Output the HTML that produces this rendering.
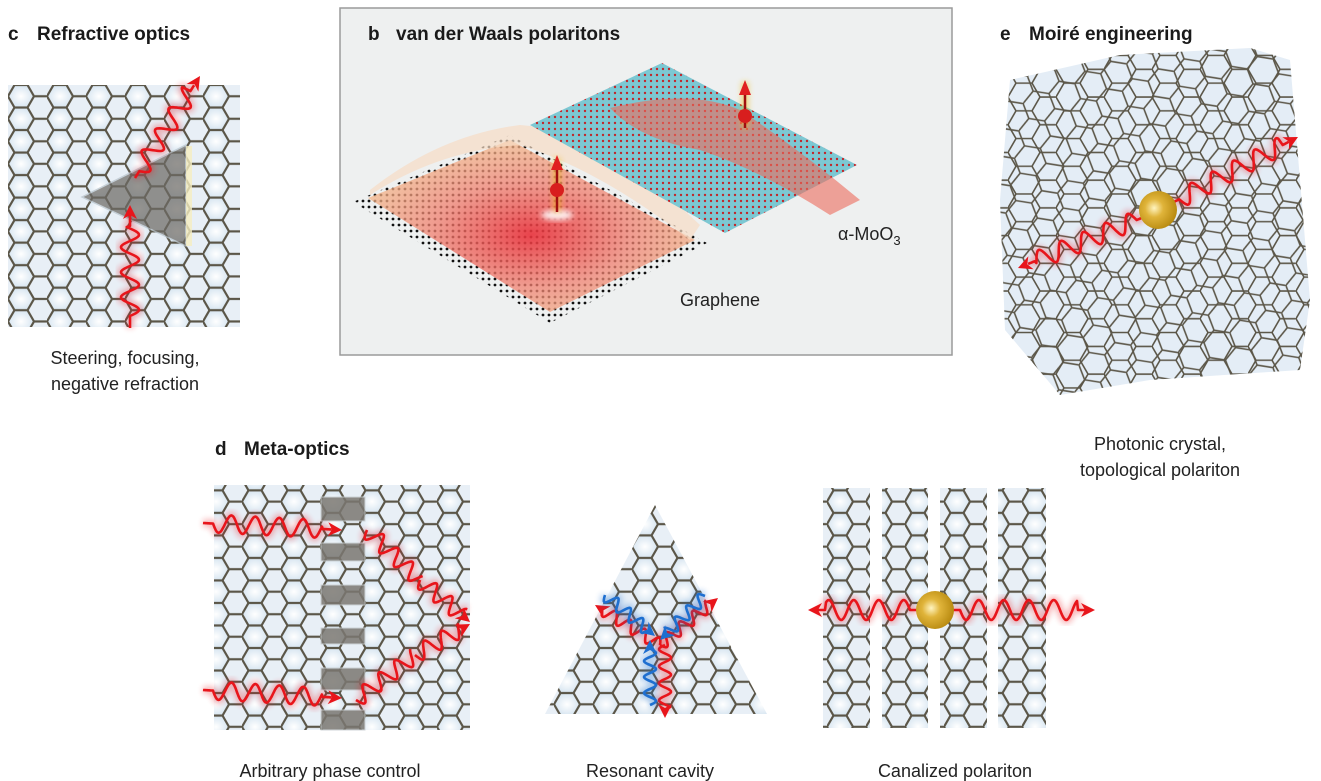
<!DOCTYPE html>
<html><head><meta charset="utf-8"><style>
html,body{margin:0;padding:0;background:#fff;}
svg{display:block;font-family:"Liberation Sans",Arial,sans-serif;}
.t{font-weight:bold;font-size:19px;fill:#1a1a1a;}
.cap{font-size:18px;fill:#222;}
</style></head><body>
<svg id="s" width="1321" height="781" viewBox="0 0 1321 781" xmlns="http://www.w3.org/2000/svg">
<defs>
 <radialGradient id="hb" cx="50%" cy="50%" r="60%"><stop offset="0" stop-color="#ffffff"/><stop offset="1" stop-color="#cfe0ee"/></radialGradient>
 <pattern id="hex" x="8" y="85" width="39" height="22.52" patternUnits="userSpaceOnUse">
  <rect width="39" height="22.52" fill="#e8eff6"/>
  <path d="M0 11.26 L6.5 0 L19.5 0 L26 11.26 L19.5 22.52 L6.5 22.52 Z" fill="url(#hb)"/>
  <path d="M0 11.26 L6.5 0 L19.5 0 L26 11.26 L19.5 22.52 L6.5 22.52 Z M26 11.26 L39 11.26" fill="none" stroke="#5b5648" stroke-width="2.2"/>
 </pattern>
 <pattern id="hexm" width="48" height="27.71" patternUnits="userSpaceOnUse">
  <path d="M0 13.86 L8 0 L24 0 L32 13.86 L24 27.71 L8 27.71 Z M32 13.86 L48 13.86" fill="none" stroke="#5b5648" stroke-width="1.6"/>
 </pattern>
 <pattern id="hexm2" width="48" height="27.71" patternUnits="userSpaceOnUse" patternTransform="rotate(9 1150 210)">
  <path d="M0 13.86 L8 0 L24 0 L32 13.86 L24 27.71 L8 27.71 Z M32 13.86 L48 13.86" fill="none" stroke="#5b5648" stroke-width="1.6"/>
 </pattern>
 <pattern id="dots" width="6" height="6" patternUnits="userSpaceOnUse"><circle cx="3" cy="3" r="1.4" fill="#111"/></pattern>
 <pattern id="rdots" width="6" height="6" patternUnits="userSpaceOnUse"><rect width="6" height="6" fill="#7cc8d3"/><circle cx="3" cy="3" r="1.2" fill="#c0282c"/></pattern>
 <radialGradient id="glow" cx="50%" cy="55%" r="55%"><stop offset="0" stop-color="#e8303a" stop-opacity=".9"/><stop offset=".55" stop-color="#f08070" stop-opacity=".75"/><stop offset="1" stop-color="#f3b88a" stop-opacity=".75"/></radialGradient>
 <radialGradient id="gold" cx="40%" cy="45%" r="60%"><stop offset="0" stop-color="#fff4c0"/><stop offset=".4" stop-color="#e0b43a"/><stop offset="1" stop-color="#b88a10"/></radialGradient>
 <filter id="bl" x="-30%" y="-30%" width="160%" height="160%"><feGaussianBlur stdDeviation="3"/></filter>
 <clipPath id="cc"><rect x="8" y="85" width="232" height="242"/></clipPath>
 <clipPath id="cd1"><rect x="214" y="485" width="256" height="245"/></clipPath>
 <clipPath id="ctri"><polygon points="655,505 545,714 767,714"/></clipPath>
 <clipPath id="cstr"><rect x="823" y="488" width="47" height="240"/><rect x="882" y="488" width="46" height="240"/><rect x="940" y="488" width="47" height="240"/><rect x="998" y="488" width="48" height="240"/></clipPath>
 <clipPath id="ce"><polygon points="1010,80 1120,55 1250,48 1290,60 1300,180 1310,300 1300,370 1150,380 1060,395 1005,330 1000,200"/></clipPath>
</defs>

<text x="8" y="40" class="t">c</text><text x="37" y="40" class="t">Refractive optics</text>
<rect x="8" y="85" width="232" height="242" fill="url(#hex)" clip-path="url(#cc)"/>
<polygon points="82,197 186,145 186,246" fill="#6e6b66" opacity=".72" stroke="#b8c4cc" stroke-width="1.5"/>
<rect x="186" y="146" width="6" height="100" fill="#f5eec0" opacity=".8"/>
<text x="125" y="364" text-anchor="middle" class="cap">Steering, focusing,</text>
<text x="125" y="390" text-anchor="middle" class="cap">negative refraction</text>

<rect x="340" y="8" width="612" height="347" fill="#eef0f0" stroke="#9a9a9a" stroke-width="1.5"/>
<text x="368" y="40" class="t">b</text><text x="396" y="40" class="t">van der Waals polaritons</text>
<polygon points="353,202 550,323 707,243 510,135" fill="url(#dots)"/>
<polygon points="368,198 550,312 695,240 510,140" fill="url(#glow)"/>
<path d="M370 190 Q440 135 520 125 Q600 130 700 225 L690 240 Q600 170 520 145 Q440 150 370 195Z" fill="#f6dcc4" opacity=".7"/>
<polygon points="530,125 725,233 857,165 662,63" fill="url(#rdots)"/>
<path d="M610 108 Q690 88 740 110 Q800 150 860 200 L830 215 Q760 170 700 150 Q640 140 610 108Z" fill="#ec6a5c" opacity=".6"/>
<ellipse cx="557" cy="215" rx="16" ry="5" fill="#fff" opacity=".9" filter="url(#bl)"/>
<g stroke="#f0c020" stroke-width="7" opacity=".6" filter="url(#bl)"><line x1="557" y1="212" x2="557" y2="158"/><line x1="745" y1="128" x2="745" y2="82"/></g>
<g stroke="#a01010" stroke-width="2.5"><line x1="557" y1="212" x2="557" y2="165"/><line x1="745" y1="128" x2="745" y2="90"/></g>
<polygon points="551,170 557,155 563,170" fill="#e02020"/><polygon points="739,95 745,80 751,95" fill="#e02020"/>
<circle cx="557" cy="190" r="7" fill="#d81e1e"/><circle cx="745" cy="116" r="7" fill="#d81e1e"/>
<text x="680" y="306" class="cap">Graphene</text>
<text x="838" y="240" class="cap">α-MoO<tspan font-size="13" dy="5">3</tspan></text>

<text x="1000" y="40" class="t">e</text><text x="1029" y="40" class="t">Moiré engineering</text>
<g clip-path="url(#ce)">
 <rect x="990" y="40" width="330" height="370" fill="#e4edf6"/>
 <rect x="990" y="40" width="330" height="370" fill="url(#hexm)"/>
 <rect x="990" y="40" width="330" height="370" fill="url(#hexm2)"/>
</g>
<text x="1160" y="450" text-anchor="middle" class="cap">Photonic crystal,</text>
<text x="1160" y="476" text-anchor="middle" class="cap">topological polariton</text>

<text x="215" y="455" class="t">d</text><text x="244" y="455" class="t">Meta-optics</text>
<rect x="214" y="485" width="256" height="245" fill="url(#hex)" clip-path="url(#cd1)"/>
<g fill="#7b7872" opacity=".85" stroke="#c9cfd2">
 <rect x="321" y="497" width="44" height="24"/><rect x="321" y="543" width="44" height="18"/><rect x="321" y="585" width="44" height="20"/><rect x="321" y="628" width="44" height="16"/><rect x="321" y="668" width="44" height="22"/><rect x="321" y="710" width="44" height="20"/>
</g>
<rect x="540" y="495" width="230" height="225" fill="url(#hex)" clip-path="url(#ctri)"/>
<rect x="815" y="488" width="240" height="240" fill="url(#hex)" clip-path="url(#cstr)"/>
<text x="330" y="777" text-anchor="middle" class="cap">Arbitrary phase control</text>
<text x="650" y="777" text-anchor="middle" class="cap">Resonant cavity</text>
<text x="955" y="777" text-anchor="middle" class="cap">Canalized polariton</text>
<g id="w"></g>
<circle cx="1158" cy="210" r="19" fill="url(#gold)"/>
<circle cx="935" cy="610" r="19" fill="url(#gold)"/>
</svg>
<script>
var NS="http://www.w3.org/2000/svg",g=document.getElementById("w");
function wave(x1,y1,x2,y2,amp,wl,col,arrow,lead){
 col=col||"#e8151b";lead=lead||0;
 var dx=x2-x1,dy=y2-y1,L=Math.hypot(dx,dy),ux=dx/L,uy=dy/L,nx=-uy,ny=ux,d="";
 var end=L-(arrow?10:0);
 for(var t=0;t<=end;t+=1){var a=(t<lead||t>end-lead)?0:amp*Math.sin(2*Math.PI*(t-lead)/wl);
  d+=(t?"L":"M")+(x1+ux*t+nx*a).toFixed(1)+" "+(y1+uy*t+ny*a).toFixed(1);}
 var p=document.createElementNS(NS,"path");p.setAttribute("d",d);p.setAttribute("fill","none");
 p.setAttribute("stroke",col);p.setAttribute("stroke-width","2.6");p.setAttribute("stroke-linejoin","round");
 var gl=p.cloneNode();gl.setAttribute("stroke-width","8");gl.setAttribute("opacity",".3");gl.setAttribute("filter","url(#bl)");
 g.appendChild(gl);g.appendChild(p);
 if(arrow){var ax=x2,ay=y2,bx=x2-ux*14,by=y2-uy*14;
  var q=document.createElementNS(NS,"polygon");
  q.setAttribute("points",ax+","+ay+" "+(bx+nx*7)+","+(by+ny*7)+" "+(x2-ux*10)+","+(y2-uy*10)+" "+(bx-nx*7)+","+(by-ny*7));
  q.setAttribute("fill",col);g.appendChild(q);}
}
wave(130,328,130,205,9,25,0,1,12);
wave(135,178,200,76,9,25,0,1,8);
wave(1172,203,1298,137,9,24,0,1,8);
wave(1144,217,1018,268,9,24,0,1,8);
wave(203,523,342,530,9,24,0,1,10);
wave(203,690,342,698,9,24,0,1,10);
wave(367,530,420,580,8,20,0,0,0);wave(420,580,470,622,8,20,0,1,0);
wave(356,700,415,655,8,20,0,0,0);wave(415,655,470,624,8,20,0,1,0);
wave(660,645,595,605,6,17,0,1,0);
wave(660,645,718,598,6,17,0,1,0);
wave(665,645,665,718,6,17,0,1,0);
wave(650,705,650,640,6,16,"#1e6fd0",1,0);
wave(705,596,660,640,6,16,"#1e6fd0",1,0);
wave(605,595,655,636,6,16,"#1e6fd0",1,0);
wave(918,610,808,610,10,25,0,1,8);
wave(952,610,1095,610,10,25,0,1,8);
</script>
</body></html>
